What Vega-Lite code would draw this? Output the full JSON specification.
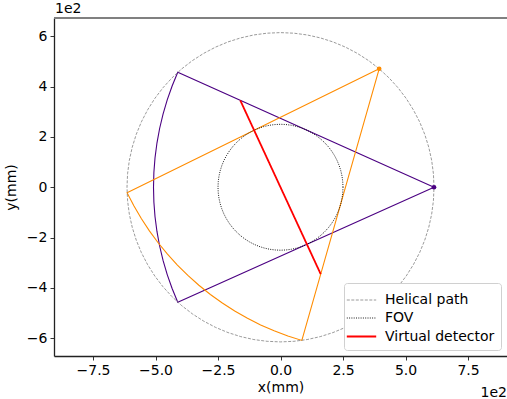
{
  "$schema": "https://vega.github.io/schema/vega-lite/v6.json",
  "autosize": {"type": "none"},
  "padding": {"left": 54, "top": 18, "right": 0, "bottom": 43},
  "width": 453,
  "height": 338,
  "background": "white",
  "config": {
    "font": "DejaVu Sans",
    "view": {"stroke": null},
    "axis": {"labelFont": "DejaVu Sans", "titleFont": "DejaVu Sans", "labelFontSize": 14, "titleFontSize": 14, "titleFontWeight": "normal", "labelColor": "black", "titleColor": "black", "tickColor": "black", "tickSize": 4, "tickWidth": 0.8, "domainColor": "#222", "domainWidth": 1.3, "grid": false, "labelPadding": 3},
    "legend": {"labelFont": "DejaVu Sans", "labelFontSize": 14, "labelColor": "black"}
  },
  "datasets": {
    "paths": [
      {"s":"Helical path","i":0,"x":6.14,"y":0},{"s":"Helical path","i":1,"x":6.117,"y":0.535},{"s":"Helical path","i":2,"x":6.047,"y":1.066},{"s":"Helical path","i":3,"x":5.931,"y":1.589},{"s":"Helical path","i":4,"x":5.77,"y":2.1},{"s":"Helical path","i":5,"x":5.565,"y":2.595},{"s":"Helical path","i":6,"x":5.317,"y":3.07},{"s":"Helical path","i":7,"x":5.03,"y":3.522},{"s":"Helical path","i":8,"x":4.704,"y":3.947},{"s":"Helical path","i":9,"x":4.342,"y":4.342},{"s":"Helical path","i":10,"x":3.947,"y":4.704},{"s":"Helical path","i":11,"x":3.522,"y":5.03},{"s":"Helical path","i":12,"x":3.07,"y":5.317},{"s":"Helical path","i":13,"x":2.595,"y":5.565},{"s":"Helical path","i":14,"x":2.1,"y":5.77},{"s":"Helical path","i":15,"x":1.589,"y":5.931},{"s":"Helical path","i":16,"x":1.066,"y":6.047},{"s":"Helical path","i":17,"x":0.535,"y":6.117},{"s":"Helical path","i":18,"x":0,"y":6.14},{"s":"Helical path","i":19,"x":-0.535,"y":6.117},{"s":"Helical path","i":20,"x":-1.066,"y":6.047},{"s":"Helical path","i":21,"x":-1.589,"y":5.931},{"s":"Helical path","i":22,"x":-2.1,"y":5.77},{"s":"Helical path","i":23,"x":-2.595,"y":5.565},{"s":"Helical path","i":24,"x":-3.07,"y":5.317},{"s":"Helical path","i":25,"x":-3.522,"y":5.03},{"s":"Helical path","i":26,"x":-3.947,"y":4.704},{"s":"Helical path","i":27,"x":-4.342,"y":4.342},{"s":"Helical path","i":28,"x":-4.704,"y":3.947},{"s":"Helical path","i":29,"x":-5.03,"y":3.522},{"s":"Helical path","i":30,"x":-5.317,"y":3.07},{"s":"Helical path","i":31,"x":-5.565,"y":2.595},{"s":"Helical path","i":32,"x":-5.77,"y":2.1},{"s":"Helical path","i":33,"x":-5.931,"y":1.589},{"s":"Helical path","i":34,"x":-6.047,"y":1.066},{"s":"Helical path","i":35,"x":-6.117,"y":0.535},{"s":"Helical path","i":36,"x":-6.14,"y":0},{"s":"Helical path","i":37,"x":-6.117,"y":-0.535},{"s":"Helical path","i":38,"x":-6.047,"y":-1.066},{"s":"Helical path","i":39,"x":-5.931,"y":-1.589},{"s":"Helical path","i":40,"x":-5.77,"y":-2.1},{"s":"Helical path","i":41,"x":-5.565,"y":-2.595},{"s":"Helical path","i":42,"x":-5.317,"y":-3.07},{"s":"Helical path","i":43,"x":-5.03,"y":-3.522},{"s":"Helical path","i":44,"x":-4.704,"y":-3.947},{"s":"Helical path","i":45,"x":-4.342,"y":-4.342},{"s":"Helical path","i":46,"x":-3.947,"y":-4.704},{"s":"Helical path","i":47,"x":-3.522,"y":-5.03},{"s":"Helical path","i":48,"x":-3.07,"y":-5.317},{"s":"Helical path","i":49,"x":-2.595,"y":-5.565},{"s":"Helical path","i":50,"x":-2.1,"y":-5.77},{"s":"Helical path","i":51,"x":-1.589,"y":-5.931},{"s":"Helical path","i":52,"x":-1.066,"y":-6.047},{"s":"Helical path","i":53,"x":-0.535,"y":-6.117},{"s":"Helical path","i":54,"x":0,"y":-6.14},{"s":"Helical path","i":55,"x":0.535,"y":-6.117},{"s":"Helical path","i":56,"x":1.066,"y":-6.047},{"s":"Helical path","i":57,"x":1.589,"y":-5.931},{"s":"Helical path","i":58,"x":2.1,"y":-5.77},{"s":"Helical path","i":59,"x":2.595,"y":-5.565},{"s":"Helical path","i":60,"x":3.07,"y":-5.317},{"s":"Helical path","i":61,"x":3.522,"y":-5.03},{"s":"Helical path","i":62,"x":3.947,"y":-4.704},{"s":"Helical path","i":63,"x":4.342,"y":-4.342},{"s":"Helical path","i":64,"x":4.704,"y":-3.947},{"s":"Helical path","i":65,"x":5.03,"y":-3.522},{"s":"Helical path","i":66,"x":5.317,"y":-3.07},{"s":"Helical path","i":67,"x":5.565,"y":-2.595},{"s":"Helical path","i":68,"x":5.77,"y":-2.1},{"s":"Helical path","i":69,"x":5.931,"y":-1.589},{"s":"Helical path","i":70,"x":6.047,"y":-1.066},{"s":"Helical path","i":71,"x":6.117,"y":-0.535},{"s":"Helical path","i":72,"x":6.14,"y":0},
      {"s":"FOV","i":0,"x":2.5,"y":0},{"s":"FOV","i":1,"x":2.49,"y":0.218},{"s":"FOV","i":2,"x":2.462,"y":0.434},{"s":"FOV","i":3,"x":2.415,"y":0.647},{"s":"FOV","i":4,"x":2.349,"y":0.855},{"s":"FOV","i":5,"x":2.266,"y":1.057},{"s":"FOV","i":6,"x":2.165,"y":1.25},{"s":"FOV","i":7,"x":2.048,"y":1.434},{"s":"FOV","i":8,"x":1.915,"y":1.607},{"s":"FOV","i":9,"x":1.768,"y":1.768},{"s":"FOV","i":10,"x":1.607,"y":1.915},{"s":"FOV","i":11,"x":1.434,"y":2.048},{"s":"FOV","i":12,"x":1.25,"y":2.165},{"s":"FOV","i":13,"x":1.057,"y":2.266},{"s":"FOV","i":14,"x":0.855,"y":2.349},{"s":"FOV","i":15,"x":0.647,"y":2.415},{"s":"FOV","i":16,"x":0.434,"y":2.462},{"s":"FOV","i":17,"x":0.218,"y":2.49},{"s":"FOV","i":18,"x":0,"y":2.5},{"s":"FOV","i":19,"x":-0.218,"y":2.49},{"s":"FOV","i":20,"x":-0.434,"y":2.462},{"s":"FOV","i":21,"x":-0.647,"y":2.415},{"s":"FOV","i":22,"x":-0.855,"y":2.349},{"s":"FOV","i":23,"x":-1.057,"y":2.266},{"s":"FOV","i":24,"x":-1.25,"y":2.165},{"s":"FOV","i":25,"x":-1.434,"y":2.048},{"s":"FOV","i":26,"x":-1.607,"y":1.915},{"s":"FOV","i":27,"x":-1.768,"y":1.768},{"s":"FOV","i":28,"x":-1.915,"y":1.607},{"s":"FOV","i":29,"x":-2.048,"y":1.434},{"s":"FOV","i":30,"x":-2.165,"y":1.25},{"s":"FOV","i":31,"x":-2.266,"y":1.057},{"s":"FOV","i":32,"x":-2.349,"y":0.855},{"s":"FOV","i":33,"x":-2.415,"y":0.647},{"s":"FOV","i":34,"x":-2.462,"y":0.434},{"s":"FOV","i":35,"x":-2.49,"y":0.218},{"s":"FOV","i":36,"x":-2.5,"y":0},{"s":"FOV","i":37,"x":-2.49,"y":-0.218},{"s":"FOV","i":38,"x":-2.462,"y":-0.434},{"s":"FOV","i":39,"x":-2.415,"y":-0.647},{"s":"FOV","i":40,"x":-2.349,"y":-0.855},{"s":"FOV","i":41,"x":-2.266,"y":-1.057},{"s":"FOV","i":42,"x":-2.165,"y":-1.25},{"s":"FOV","i":43,"x":-2.048,"y":-1.434},{"s":"FOV","i":44,"x":-1.915,"y":-1.607},{"s":"FOV","i":45,"x":-1.768,"y":-1.768},{"s":"FOV","i":46,"x":-1.607,"y":-1.915},{"s":"FOV","i":47,"x":-1.434,"y":-2.048},{"s":"FOV","i":48,"x":-1.25,"y":-2.165},{"s":"FOV","i":49,"x":-1.057,"y":-2.266},{"s":"FOV","i":50,"x":-0.855,"y":-2.349},{"s":"FOV","i":51,"x":-0.647,"y":-2.415},{"s":"FOV","i":52,"x":-0.434,"y":-2.462},{"s":"FOV","i":53,"x":-0.218,"y":-2.49},{"s":"FOV","i":54,"x":0,"y":-2.5},{"s":"FOV","i":55,"x":0.218,"y":-2.49},{"s":"FOV","i":56,"x":0.434,"y":-2.462},{"s":"FOV","i":57,"x":0.647,"y":-2.415},{"s":"FOV","i":58,"x":0.855,"y":-2.349},{"s":"FOV","i":59,"x":1.057,"y":-2.266},{"s":"FOV","i":60,"x":1.25,"y":-2.165},{"s":"FOV","i":61,"x":1.434,"y":-2.048},{"s":"FOV","i":62,"x":1.607,"y":-1.915},{"s":"FOV","i":63,"x":1.768,"y":-1.768},{"s":"FOV","i":64,"x":1.915,"y":-1.607},{"s":"FOV","i":65,"x":2.048,"y":-1.434},{"s":"FOV","i":66,"x":2.165,"y":-1.25},{"s":"FOV","i":67,"x":2.266,"y":-1.057},{"s":"FOV","i":68,"x":2.349,"y":-0.855},{"s":"FOV","i":69,"x":2.415,"y":-0.647},{"s":"FOV","i":70,"x":2.462,"y":-0.434},{"s":"FOV","i":71,"x":2.49,"y":-0.218},{"s":"FOV","i":72,"x":2.5,"y":0},
      {"s":"Virtual detector","i":0,"x":-1.609,"y":3.45},{"s":"Virtual detector","i":1,"x":1.609,"y":-3.45}
    ],
    "fans": [
      {"f":"A","i":0,"x":6.14,"y":0},{"f":"A","i":1,"x":-4.11,"y":4.564},{"f":"A","i":2,"x":-4.335,"y":4.021},{"f":"A","i":3,"x":-4.531,"y":3.467},{"f":"A","i":4,"x":-4.698,"y":2.904},{"f":"A","i":5,"x":-4.835,"y":2.333},{"f":"A","i":6,"x":-4.942,"y":1.755},{"f":"A","i":7,"x":-5.019,"y":1.173},{"f":"A","i":8,"x":-5.065,"y":0.587},{"f":"A","i":9,"x":-5.08,"y":0},{"f":"A","i":10,"x":-5.065,"y":-0.587},{"f":"A","i":11,"x":-5.019,"y":-1.173},{"f":"A","i":12,"x":-4.942,"y":-1.755},{"f":"A","i":13,"x":-4.835,"y":-2.333},{"f":"A","i":14,"x":-4.698,"y":-2.904},{"f":"A","i":15,"x":-4.531,"y":-3.467},{"f":"A","i":16,"x":-4.335,"y":-4.021},{"f":"A","i":17,"x":-4.11,"y":-4.564},{"f":"A","i":18,"x":6.14,"y":0},
      {"f":"B","i":0,"x":3.947,"y":4.704},{"f":"B","i":1,"x":-6.137,"y":-0.214},{"f":"B","i":2,"x":-5.866,"y":-0.736},{"f":"B","i":3,"x":-5.568,"y":-1.242},{"f":"B","i":4,"x":-5.244,"y":-1.732},{"f":"B","i":5,"x":-4.895,"y":-2.204},{"f":"B","i":6,"x":-4.521,"y":-2.657},{"f":"B","i":7,"x":-4.124,"y":-3.09},{"f":"B","i":8,"x":-3.705,"y":-3.502},{"f":"B","i":9,"x":-3.265,"y":-3.891},{"f":"B","i":10,"x":-2.805,"y":-4.257},{"f":"B","i":11,"x":-2.327,"y":-4.598},{"f":"B","i":12,"x":-1.832,"y":-4.913},{"f":"B","i":13,"x":-1.32,"y":-5.203},{"f":"B","i":14,"x":-0.795,"y":-5.465},{"f":"B","i":15,"x":-0.256,"y":-5.699},{"f":"B","i":16,"x":0.294,"y":-5.905},{"f":"B","i":17,"x":0.854,"y":-6.081},{"f":"B","i":18,"x":3.947,"y":4.704}
    ],
    "sources": [
      {"f":"A","x":6.14,"y":0},
      {"f":"B","x":3.947,"y":4.704}
    ],
    "note": [
      {"k":"bottom","t":"1e2","x":9.06,"y":-6.7},
      {"k":"top","t":"1e2","x":-9.06,"y":6.72}
    ]
  },
  "encoding": {
    "x": {"field": "x", "type": "quantitative", "scale": {"domain": [-9.06, 9.06], "nice": false, "zero": false}, "axis": {"values": [-7.5, -5, -2.5, 0, 2.5, 5, 7.5], "format": ".1f", "title": "x(mm)", "titlePadding": 3}},
    "y": {"field": "y", "type": "quantitative", "scale": {"domain": [-6.7, 6.72], "nice": false, "zero": false}, "axis": {"values": [-6, -4, -2, 0, 2, 4, 6], "format": "d", "title": "y(mm)", "titlePadding": 8}}
  },
  "layer": [
    {
      "data": {"name": "fans"},
      "transform": [{"filter": "datum.f == 'A'"}],
      "mark": {"type": "line", "color": "#4B0082", "strokeWidth": 1.1, "clip": true},
      "encoding": {"order": {"field": "i", "type": "quantitative"}}
    },
    {
      "data": {"name": "fans"},
      "transform": [{"filter": "datum.f == 'B'"}],
      "mark": {"type": "line", "color": "#FF8C00", "strokeWidth": 1.1, "clip": true},
      "encoding": {"order": {"field": "i", "type": "quantitative"}}
    },
    {
      "data": {"name": "paths"},
      "mark": {"type": "line", "clip": true},
      "encoding": {
        "order": {"field": "i", "type": "quantitative"},
        "color": {"field": "s", "type": "nominal", "scale": {"domain": ["Helical path", "FOV", "Virtual detector"], "range": ["#808080", "#000000", "#FF0000"]}, "legend": {"title": null, "orient": "bottom-right", "offset": 6, "symbolType": "M-1.4,0H1.4", "symbolSize": 441, "symbolFillColor": "transparent", "labelOffset": 12, "padding": 6, "rowPadding": 0, "strokeColor": "#d0d0d0", "fillColor": "white", "cornerRadius": 3}},
        "strokeDash": {"field": "s", "type": "nominal", "scale": {"domain": ["Helical path", "FOV", "Virtual detector"], "range": [[3, 1.5], [1, 1.3], [1, 0]]}, "legend": {"title": null}},
        "strokeWidth": {"field": "s", "type": "nominal", "scale": {"type": "ordinal", "domain": ["Helical path", "FOV", "Virtual detector"], "range": [0.8, 0.9, 1.8]}, "legend": {"title": null}}
      }
    },
    {
      "data": {"name": "sources"},
      "transform": [{"filter": "datum.f == 'A'"}],
      "mark": {"type": "point", "filled": true, "size": 22, "color": "#4B0082", "opacity": 1}
    },
    {
      "data": {"name": "sources"},
      "transform": [{"filter": "datum.f == 'B'"}],
      "mark": {"type": "point", "filled": true, "size": 22, "color": "#FF8C00", "opacity": 1}
    },
    {
      "data": {"name": "note"},
      "transform": [{"filter": "datum.k == 'bottom'"}],
      "mark": {"type": "text", "align": "right", "baseline": "top", "dy": 30, "fontSize": 14, "font": "DejaVu Sans", "color": "black"},
      "encoding": {"text": {"field": "t"}}
    },
    {
      "data": {"name": "note"},
      "transform": [{"filter": "datum.k == 'top'"}],
      "mark": {"type": "text", "align": "left", "baseline": "bottom", "dy": -2, "dx": 1, "fontSize": 14, "font": "DejaVu Sans", "color": "black"},
      "encoding": {"text": {"field": "t"}}
    },
    {
      "data": {"name": "note"},
      "transform": [{"filter": "datum.k == 'top'"}],
      "mark": {"type": "rule", "color": "#808080", "strokeWidth": 1.8},
      "encoding": {"x": {"datum": -9.06}, "x2": {"datum": 9.06}, "y": {"datum": 6.72}}
    }
  ]
}
